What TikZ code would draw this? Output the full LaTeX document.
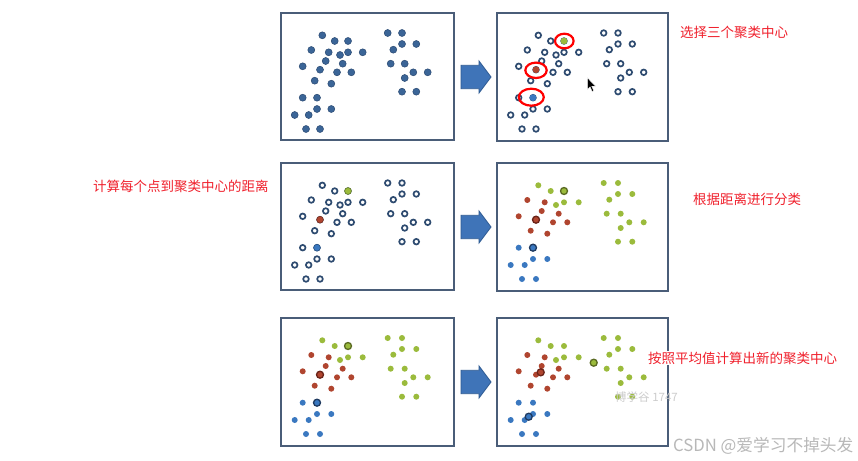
\documentclass[tikz,border=0pt]{standalone}
\usepackage{fontspec}
\newfontfamily\cjk{Noto Sans CJK SC}
\definecolor{frame}{HTML}{4A5D78}
\definecolor{dotblue}{HTML}{3B6597}
\definecolor{dotedge}{HTML}{2B4A72}
\definecolor{ring}{HTML}{2E4B70}
\definecolor{cg}{HTML}{9BBB3C}
\definecolor{cr}{HTML}{B0452F}
\definecolor{cb}{HTML}{3A78C0}
\definecolor{cgd}{HTML}{5A6A22}
\definecolor{crd}{HTML}{6A2318}
\definecolor{cbd}{HTML}{1F3A60}
\definecolor{arrowfill}{HTML}{3F74B8}
\definecolor{arrowedge}{HTML}{2D5A92}
\definecolor{lab}{HTML}{F0202C}
\definecolor{wm}{HTML}{B8B8B8}
\def\Gl{322.3/35.3, 334.7/41, 348/41, 340/55, 348/52.3, 362.7/52.3}
\def\Gr{387.7/33, 402/33, 402/44, 416.3/44, 393.3/49.7, 390.7/63.7, 404.7/63.7, 413.3/72.3, 427.7/72.3, 404.7/78, 402/91.7, 416.3/91.7}
\def\Rd{311.3/50, 328.7/52.3, 325.7/61, 342.7/63.7, 302.7/66.3, 320/69.7, 337/72.3, 351.3/72.3, 314.7/80.7, 331.3/83.7}
\def\Bl{302.7/97.7, 317/97.7, 317/109, 331.3/109, 294.7/115, 308.7/115, 306/129, 320/129}
\tikzset{
  panel/.style={draw=frame, line width=2pt, fill=white},
  bdot/.style={fill=dotblue, draw=dotedge, line width=0.5pt},
  rdot/.style={fill=white, draw=ring, line width=1.7pt},
  blockarrow/.style={fill=arrowfill, draw=arrowedge, line width=0.8pt},
  hilite/.style={draw=red, line width=2.2pt},
  lab/.style={text=lab, inner sep=0pt, anchor=west, font=\cjk\fontsize{13.5}{15}\selectfont},
  wmark/.style={text=wm, inner sep=0pt, anchor=west}
}
\newcommand\colordots{%
  \foreach \px/\py in \Gl {\fill[cg] (\px,\py) circle (3pt);}
  \foreach \px/\py in \Gr {\fill[cg] (\px,\py) circle (3pt);}
  \foreach \px/\py in \Rd {\fill[cr] (\px,\py) circle (3pt);}
  \foreach \px/\py in \Bl {\fill[cb] (\px,\py) circle (3pt);}
}
\newcommand\ringdots{%
  \foreach \px/\py in \Gl {\draw[rdot] (\px,\py) circle (2.8pt);}
  \foreach \px/\py in \Gr {\draw[rdot] (\px,\py) circle (2.8pt);}
  \foreach \px/\py in \Rd {\draw[rdot] (\px,\py) circle (2.8pt);}
  \foreach \px/\py in \Bl {\draw[rdot] (\px,\py) circle (2.8pt);}
}
\begin{document}
\begin{tikzpicture}[x=1pt,y=-1pt]
\useasboundingbox[fill=white] (0,0) rectangle (858,460);
% frames
\draw[panel] (281,13) rectangle (454,140);
\draw[panel] (497,13) rectangle (668,141);
\draw[panel] (281,163) rectangle (454,290);
\draw[panel] (497,163) rectangle (668,291);
\draw[panel] (281,318) rectangle (454,446);
\draw[panel] (497,318) rectangle (668,446);
% arrows
\foreach \cy in {77,227,382}{
  \draw[blockarrow] (461,\cy-11.7) -- (479,\cy-11.7) -- (479,\cy-16) -- (491,\cy)
    -- (479,\cy+16) -- (479,\cy+11.7) -- (461,\cy+11.7) -- cycle;
}
% panel 1
\foreach \px/\py in \Gl {\draw[bdot] (\px,\py) circle (3.5pt);}
\foreach \px/\py in \Gr {\draw[bdot] (\px,\py) circle (3.5pt);}
\foreach \px/\py in \Rd {\draw[bdot] (\px,\py) circle (3.5pt);}
\foreach \px/\py in \Bl {\draw[bdot] (\px,\py) circle (3.5pt);}
% panel 2
\begin{scope}[shift={(216,0)}]
  \ringdots
  \fill[cg] (348,41) circle (3.4pt);
  \fill[cr] (320,69.7) circle (3.4pt);
  \fill[cb] (317,97.7) circle (3.4pt);
  \draw[hilite] (348.3,41) ellipse (9.3pt and 7.3pt);
  \draw[hilite] (320,70.3) ellipse (10.7pt and 7.7pt);
  \draw[hilite] (315.3,97.2) ellipse (12.5pt and 8.5pt);
  % mouse cursor
  \filldraw[fill=black, draw=white, line width=0.4pt]
    (371.3,77.7) -- (371.3,89.5) -- (374,86.8) -- (376.2,91.5) -- (377.8,90.8)
    -- (375.7,86.2) -- (379.5,86.2) -- cycle;
\end{scope}
% panel 3
\begin{scope}[shift={(0,150)}]
  \ringdots
  \draw[fill=cg, draw=cg!70!black, line width=0.6pt] (348,41) circle (3.4pt);
  \draw[fill=cr, draw=cr!70!black, line width=0.6pt] (320,69.7) circle (3.4pt);
  \draw[fill=cb, draw=cb!70!black, line width=0.6pt] (317,97.7) circle (3.4pt);
\end{scope}
% panel 4
\begin{scope}[shift={(216,150)}]
  \colordots
  \draw[fill=cg, draw=cgd, line width=1.3pt] (348,41) circle (3.5pt);
  \draw[fill=cr, draw=crd, line width=1.3pt] (320,69.7) circle (3.5pt);
  \draw[fill=cb, draw=cbd, line width=1.3pt] (317,97.7) circle (3.5pt);
\end{scope}
% panel 5
\begin{scope}[shift={(0,305)}]
  \colordots
  \draw[fill=cg, draw=cgd, line width=1.3pt] (348,41) circle (3.5pt);
  \draw[fill=cr, draw=crd, line width=1.3pt] (320,69.7) circle (3.5pt);
  \draw[fill=cb, draw=cbd, line width=1.3pt] (317,97.7) circle (3.5pt);
\end{scope}
% panel 6
\begin{scope}[shift={(216,305)}]
  \colordots
  \draw[fill=cg, draw=cgd, line width=1.3pt] (377.7,57.7) circle (3.5pt);
  \draw[fill=cr, draw=crd, line width=1.3pt] (324.7,67.3) circle (3.5pt);
  \draw[fill=cb, draw=cbd, line width=1.3pt] (312.7,111.7) circle (3.5pt);
\end{scope}
% watermark inside panel 6
\node[wmark, font=\cjk\fontsize{11.5}{13}\selectfont, text=wm!70] (wm1) at (615,397) {博学谷 1747};
% labels
\node[lab] (l1) at (680,32) {选择三个聚类中心};
\node[lab] (l2) at (93,186) {计算每个点到聚类中心的距离};
\node[lab] (l3) at (693,199) {根据距离进行分类};
\node[lab, fill=white, inner sep=1pt] (l4) at (647,358) {按照平均值计算出新的聚类中心};
\node[wmark, font=\cjk\fontsize{16.7}{18}\selectfont] (wm2) at (673,446) {CSDN @爱学习不掉头发};
\end{tikzpicture}
\end{document}
